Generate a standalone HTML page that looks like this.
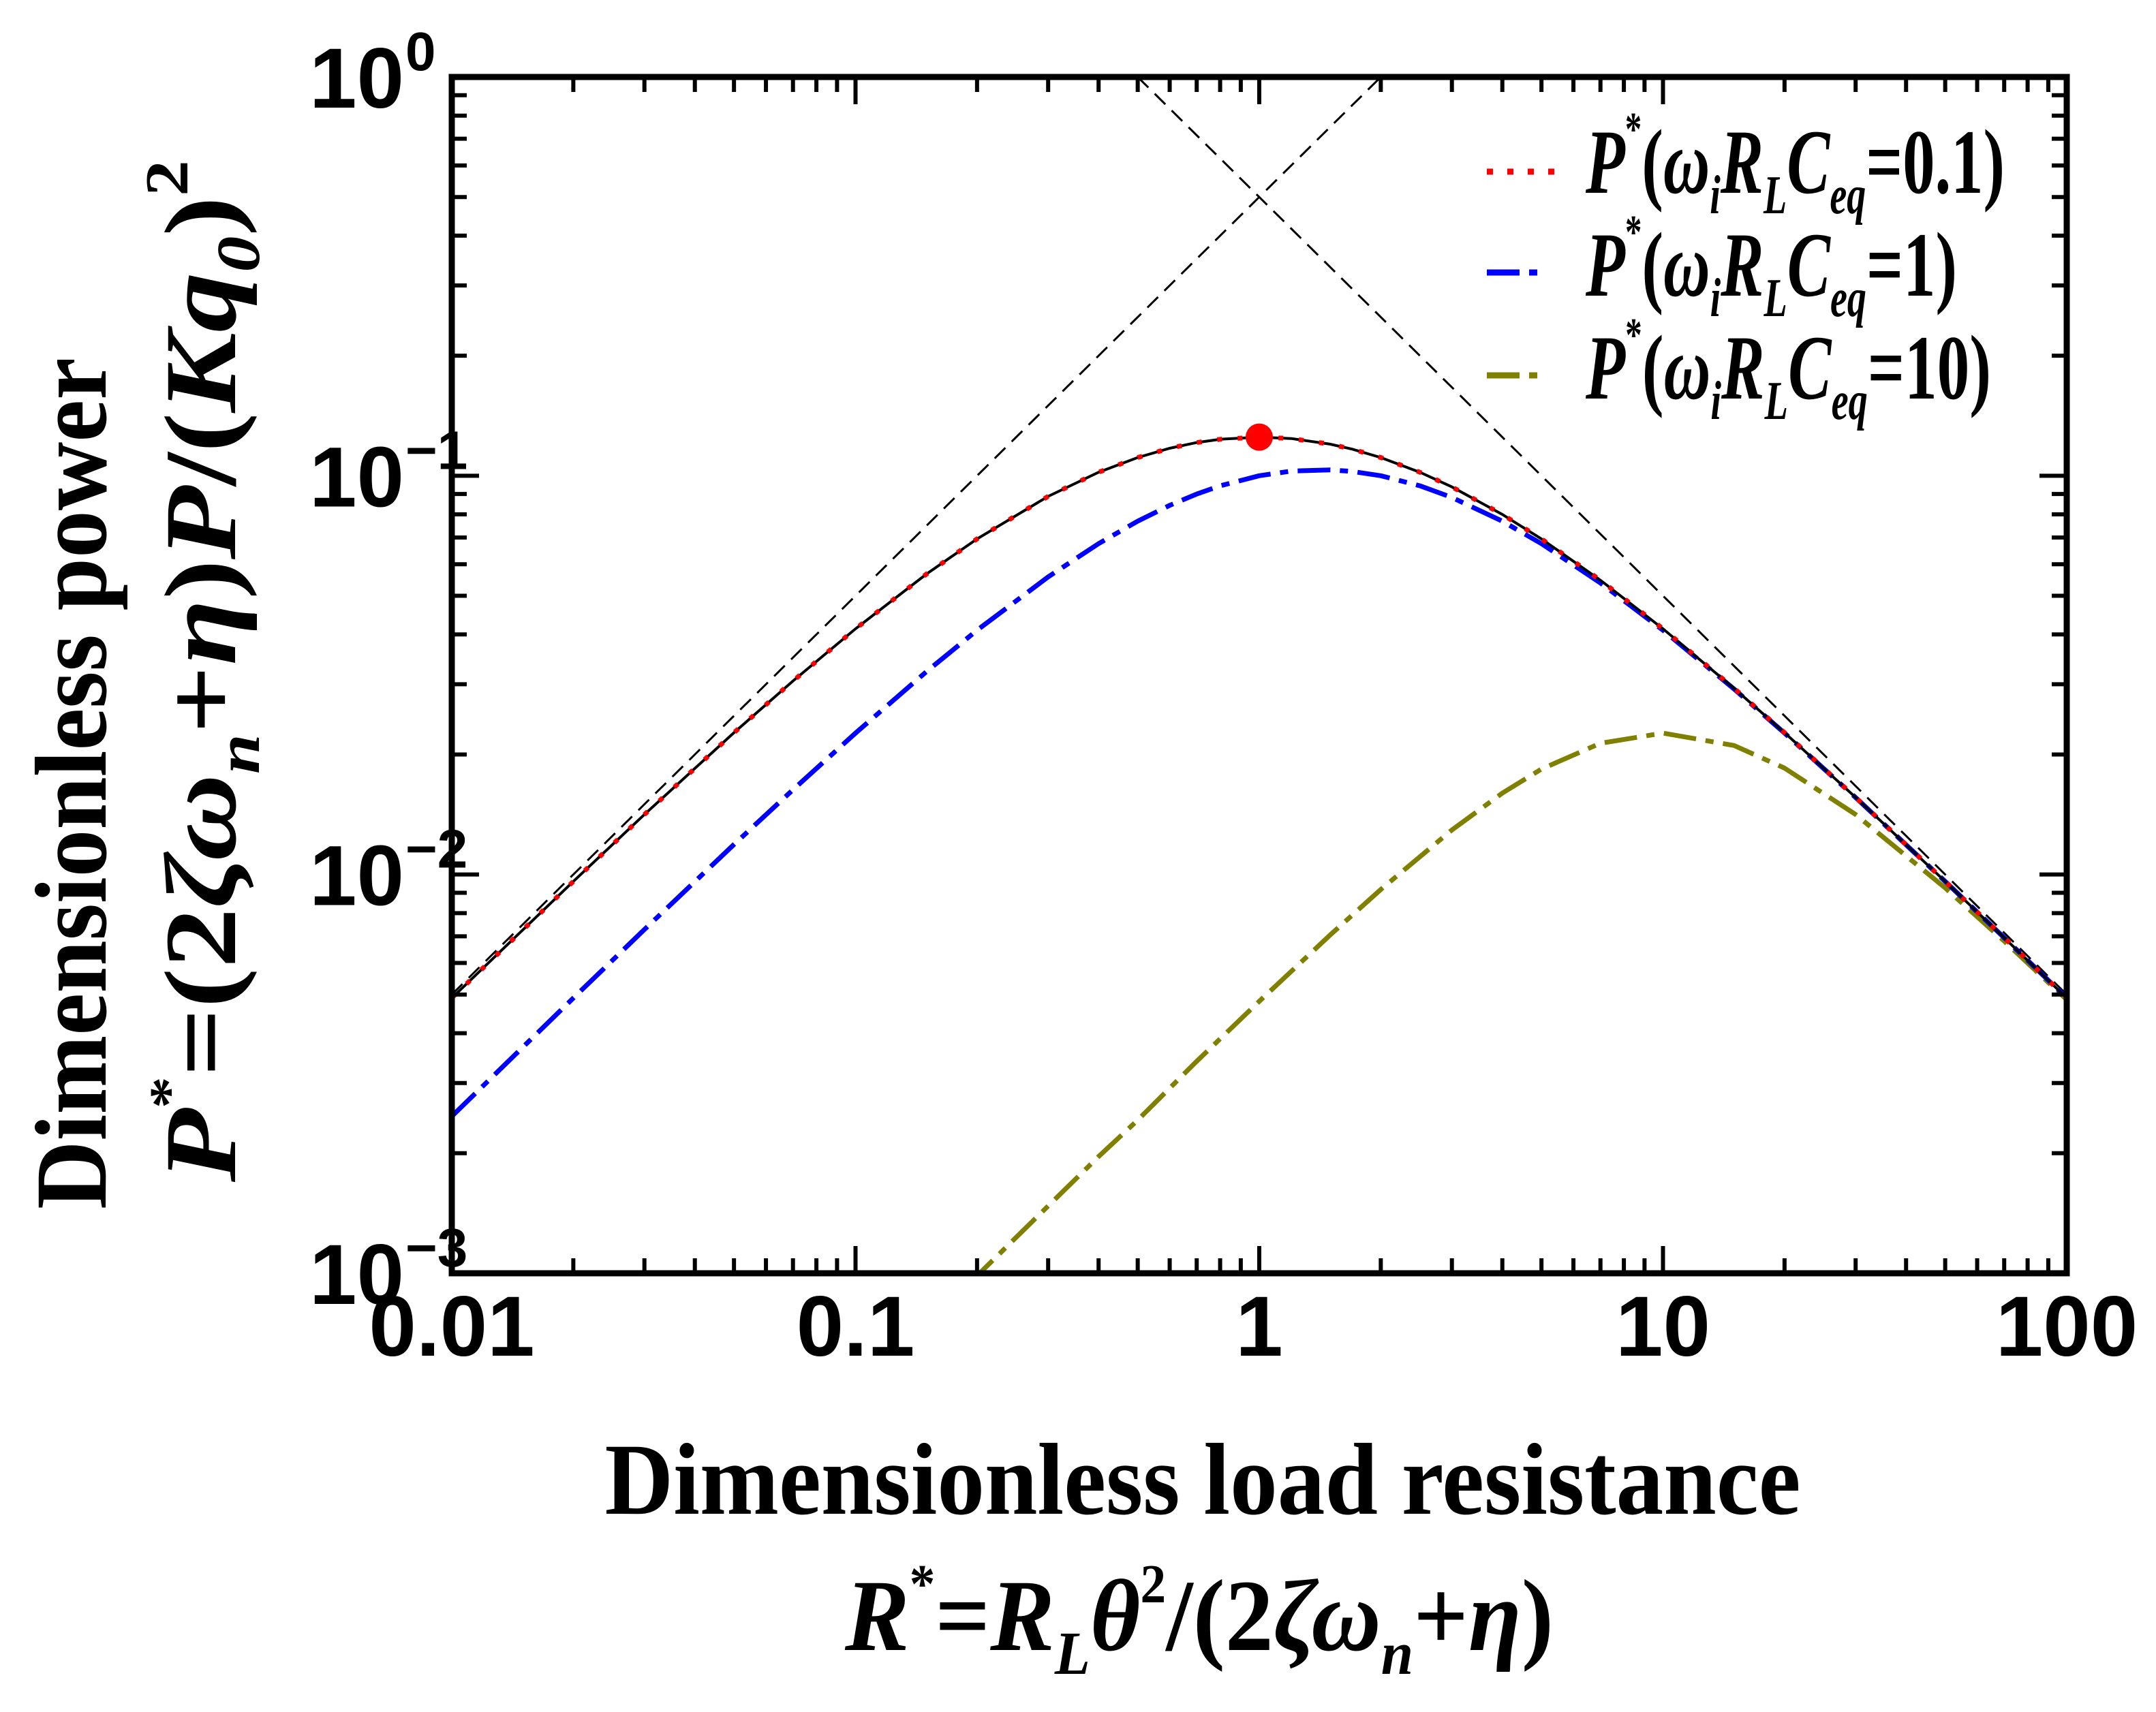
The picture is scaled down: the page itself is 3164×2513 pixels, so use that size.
<!DOCTYPE html>
<html><head><meta charset="utf-8"><style>
html,body{margin:0;padding:0;background:#fff;}
svg{display:block;}
</style></head><body>
<svg id="chart" width="3164" height="2513" viewBox="0 0 3164 2513" xmlns="http://www.w3.org/2000/svg">
<rect width="3164" height="2513" fill="#fff"/>
<g id="marks"></g>
<g id="axes"></g>
<g font-family="Liberation Serif, serif" font-weight="bold" font-style="italic" font-size="135">
  <line x1="2182" y1="252" x2="2292" y2="252" stroke="#ff0000" stroke-width="9" stroke-dasharray="9 21"/>
  <text x="2327" y="283" textLength="615" lengthAdjust="spacingAndGlyphs">P<tspan dy="-70" font-size="70" font-style="normal">*</tspan><tspan dy="70" font-style="normal">(</tspan>ω<tspan dy="30" font-size="80">i</tspan><tspan dy="-30">R</tspan><tspan dy="30" font-size="80">L</tspan><tspan dy="-30">C</tspan><tspan dy="30" font-size="80">eq</tspan><tspan dy="-30" font-style="normal">=0.1)</tspan></text>
  <line x1="2182" y1="400" x2="2262" y2="400" stroke="#0000ff" stroke-width="9" stroke-dasharray="48 14 12 14"/>
  <text x="2327" y="434" textLength="545" lengthAdjust="spacingAndGlyphs">P<tspan dy="-70" font-size="70" font-style="normal">*</tspan><tspan dy="70" font-style="normal">(</tspan>ω<tspan dy="30" font-size="80">i</tspan><tspan dy="-30">R</tspan><tspan dy="30" font-size="80">L</tspan><tspan dy="-30">C</tspan><tspan dy="30" font-size="80">eq</tspan><tspan dy="-30" font-style="normal">=1)</tspan></text>
  <line x1="2182" y1="551" x2="2262" y2="551" stroke="#808000" stroke-width="9" stroke-dasharray="48 14 12 14"/>
  <text x="2327" y="585" textLength="595" lengthAdjust="spacingAndGlyphs">P<tspan dy="-70" font-size="70" font-style="normal">*</tspan><tspan dy="70" font-style="normal">(</tspan>ω<tspan dy="30" font-size="80">i</tspan><tspan dy="-30">R</tspan><tspan dy="30" font-size="80">L</tspan><tspan dy="-30">C</tspan><tspan dy="30" font-size="80">eq</tspan><tspan dy="-30" font-style="normal">=10)</tspan></text>
</g>
<g font-family="Liberation Serif, serif" font-weight="bold" fill="#000">
  <text x="1765" y="2222" font-size="150" text-anchor="middle" textLength="1755" lengthAdjust="spacingAndGlyphs">Dimensionless load resistance</text>
  <text x="1760" y="2422" font-size="150" text-anchor="middle" font-style="italic" textLength="1040" lengthAdjust="spacingAndGlyphs">R<tspan dy="-70" font-size="80" font-style="normal">*</tspan><tspan dy="70" font-style="normal">=</tspan>R<tspan dy="35" font-size="90">L</tspan><tspan dy="-35">θ</tspan><tspan dy="-70" font-size="80" font-style="normal">2</tspan><tspan dy="70" font-style="normal">/(2</tspan>ζω<tspan dy="35" font-size="90">n</tspan><tspan dy="-35" font-style="normal">+</tspan>η<tspan font-style="normal">)</tspan></text>
  <text transform="translate(155,1150) rotate(-90)" font-size="150" text-anchor="middle" textLength="1250" lengthAdjust="spacingAndGlyphs">Dimensionless power</text>
  <text transform="translate(345,985) rotate(-90)" font-size="150" text-anchor="middle" font-style="italic" textLength="1500" lengthAdjust="spacingAndGlyphs">P<tspan dy="-70" font-size="80" font-style="normal">*</tspan><tspan dy="70" font-style="normal">=(2</tspan>ζω<tspan dy="35" font-size="90">n</tspan><tspan dy="-35" font-style="normal">+</tspan>η<tspan font-style="normal">)</tspan>P<tspan font-style="normal">/(</tspan>Kq<tspan dy="35" font-size="90">0</tspan><tspan dy="-35" font-style="normal">)</tspan><tspan dy="-70" font-size="90" font-style="normal">2</tspan></text>
</g>
</svg>
<script>
const xs = [0.01,0.02,0.03,0.05,0.07,0.1,0.15,0.2,0.3,0.4,0.5,0.6,0.7,0.8,1,1.2,1.5,1.7,2,2.5,3,4,5,7,10,15,20,30,50,70,100];
const ideal = [0.0049,0.00961,0.01414,0.02268,0.03057,0.04132,0.05671,0.06944,0.08876,0.10204,0.11111,0.11719,0.12111,0.12346,0.125,0.12397,0.12,0.1166,0.11111,0.10204,0.09375,0.08,0.06944,0.05469,0.04132,0.0293,0.02268,0.01561,0.00961,0.00694,0.0049];
const blue = [0.002475,0.004901,0.007278,0.011891,0.016318,0.022624,0.032293,0.040984,0.055762,0.067568,0.076923,0.08427,0.089974,0.09434,0.1,0.10274,0.103448,0.102533,0.1,0.09434,0.088235,0.076923,0.067568,0.053846,0.040984,0.029183,0.022624,0.015593,0.009608,0.006942,0.004901];
const oliveX = [0.15,0.2,0.3,0.4,0.5,0.7,1,1.5,2,3,4,5,7,10,15,20,30,50,70,100];
const olive = [0.00074,0.000986,0.001475,0.001962,0.002421,0.003402,0.004808,0.007059,0.009174,0.012931,0.016,0.018382,0.021341,0.022624,0.021067,0.018484,0.014138,0.009256,0.006808,0.004854];
const asymLeftX = [0.01,2];
const asymLeftY = [0.005,1];
const asymRightX = [0.5,100];
const asymRightY = [1,0.005];
const optimumX = [1];
const optimumY = [0.125];
const xTickVals = [0.01,0.1,1,10,100];
const xTickLabels = ["0.01","0.1","1","10","100"];
const yTickVals = [0.001,0.01,0.1,1];
const yTickExps = ["−3","−2","−1","0"];

const L=663,R=3033,T=113,B=1869;
const X=v=>L+(Math.log10(v)+2)/4*(R-L);
const Y=v=>B-(Math.log10(v)+3)/3*(B-T);
const NS="http://www.w3.org/2000/svg";
const marks=document.getElementById('marks'), axes=document.getElementById('axes');
function mk(tag,attrs,parent){const e=document.createElementNS(NS,tag);for(const k in attrs)e.setAttribute(k,attrs[k]);parent.appendChild(e);return e;}
const clip=mk('clipPath',{id:'pc'},document.getElementById('chart'));
mk('rect',{x:L,y:T,width:R-L,height:B-T},clip);
marks.setAttribute('clip-path','url(#pc)');
function pathD(xv,yv){return xv.map((x,i)=>(i?'L':'M')+X(x).toFixed(1)+','+Y(yv[i]).toFixed(1)).join(' ');}

let p;
p=mk('path',{d:pathD(asymLeftX,asymLeftY),fill:'none',stroke:'#000','stroke-width':3,'stroke-dasharray':'22 13'},marks);


p=mk('path',{d:pathD(asymRightX,asymRightY),fill:'none',stroke:'#000','stroke-width':3,'stroke-dasharray':'22 13'},marks);


p=mk('path',{d:pathD(oliveX,olive),fill:'none',stroke:'#808000','stroke-width':7,'stroke-dasharray':'48 14 12 14','stroke-linejoin':'round'},marks);


p=mk('path',{d:pathD(xs,blue),fill:'none',stroke:'#0000ff','stroke-width':7,'stroke-dasharray':'48 14 12 14','stroke-linejoin':'round'},marks);


p=mk('path',{d:pathD(xs,ideal),fill:'none',stroke:'#000','stroke-width':4},marks);


p=mk('path',{d:pathD(xs,ideal),fill:'none',stroke:'#ff0000','stroke-width':7,'stroke-dasharray':'7 23'},marks);


optimumX.forEach((x,i)=>{
  const c=mk('circle',{cx:X(x),cy:Y(optimumY[i]),r:20,fill:'#ff0000'},marks);
  
  
});

const fr=mk('rect',{x:L,y:T,width:R-L,height:B-T,fill:'none',stroke:'#000','stroke-width':9},axes);


for(let d=-2;d<2;d++){for(let m=1;m<10;m++){const v=m*Math.pow(10,d);const x=X(v);const len=m===1?40:22;
  mk('line',{x1:x,y1:B,x2:x,y2:B-len,stroke:'#000','stroke-width':6},axes);
  mk('line',{x1:x,y1:T,x2:x,y2:T+len,stroke:'#000','stroke-width':6},axes);}}
for(let d=-3;d<0;d++){for(let m=1;m<10;m++){const v=m*Math.pow(10,d);const y=Y(v);const len=m===1?40:22;
  mk('line',{x1:L,y1:y,x2:L+len,y2:y,stroke:'#000','stroke-width':6},axes);
  mk('line',{x1:R,y1:y,x2:R-len,y2:y,stroke:'#000','stroke-width':6},axes);}}
xTickVals.forEach((v,i)=>{
  const t=mk('text',{x:X(v),y:1990,'text-anchor':'middle','font-family':'Liberation Sans, sans-serif','font-weight':'bold','font-size':125},axes);
  t.textContent=xTickLabels[i];
  
  
});
yTickVals.forEach((v,i)=>{
  const t=mk('text',{x:L-70,y:Y(v)+45,'text-anchor':'end','font-family':'Liberation Sans, sans-serif','font-weight':'bold','font-size':125},axes);
  t.textContent='10';
  
  
  const s=mk('text',{x:L-68,y:Y(v)-10,'text-anchor':'start','font-family':'Liberation Sans, sans-serif','font-weight':'bold','font-size':80},axes);
  s.textContent=yTickExps[i];
  
  
});
</script>
</body></html>
